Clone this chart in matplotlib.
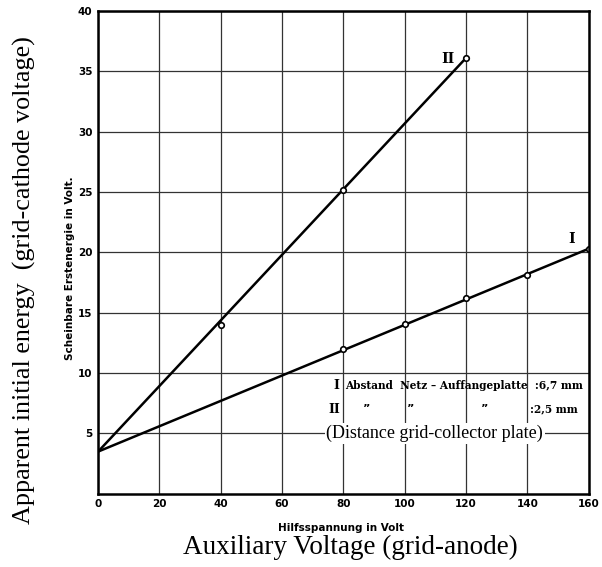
import matplotlib.pyplot as plt

# measured points (Hilfsspannung in Volt, scheinbare Erstenergie in Volt)
x_I = [80, 100, 120, 140, 160]
y_I = [12.0, 14.1, 16.2, 18.1, 20.3]
x_II = [40, 80, 120]
y_II = [14.0, 25.2, 36.1]

# both lines start at the common intercept
x0 = 0
y0 = 3.5

x_ticks = [0, 20, 40, 60, 80, 100, 120, 140, 160]
y_ticks = [5, 10, 15, 20, 25, 30, 35, 40]
y_ticklabels = ['5', '10', '15', '20', '25', '30', '35', '40']

fig = plt.figure(figsize=(6.02, 5.67), dpi=100)
ax = fig.add_axes([0.163, 0.129, 0.815, 0.852])

ax.set_xlim(0, 160)
ax.set_ylim(0, 40)
ax.set_xticks(x_ticks)
ax.set_yticks(y_ticks)
ax.set_yticklabels(y_ticklabels)
ax.grid(True, color='#333333', linewidth=0.9)
ax.tick_params(length=0, labelsize=7.5, pad=4)
for lab in ax.get_xticklabels() + ax.get_yticklabels():
    lab.set_fontweight('bold')
for s in ax.spines.values():
    s.set_linewidth(1.8)

# fitted straight lines
ax.plot([x0, x_II[-1]], [y0, y_II[-1]], color='black', linewidth=1.8)
ax.plot([x0, x_I[-1]], [y0, y_I[-1]], color='black', linewidth=1.8)
# measured points
ax.plot(x_II, y_II, 'o', color='black', markersize=4, markerfacecolor='white', markeredgewidth=1.2)
ax.plot(x_I, y_I, 'o', color='black', markersize=4, markerfacecolor='white', markeredgewidth=1.2)

ax.text(114, 36.0, 'II', fontsize=10, fontweight='bold', family='DejaVu Serif', ha='center', va='center')
ax.text(154.4, 21.1, 'I', fontsize=10, fontweight='bold', family='DejaVu Serif', ha='center', va='center')

# legend text
ax.text(78.8, 9.0, 'I', fontsize=9, fontweight='bold', family='DejaVu Serif', ha='right', va='center')
ax.text(80.5, 9.0, 'Abstand  Netz \u2013 Auffangeplatte  :6,7 mm', fontsize=7.6, fontweight='bold',
        family='DejaVu Serif', ha='left', va='center')
ax.text(78.8, 7.0, 'II', fontsize=9, fontweight='bold', family='DejaVu Serif', ha='right', va='center')
ax.text(87.6, 7.0, '\u201d', fontsize=8, fontweight='bold', ha='center', va='center')
ax.text(102, 7.0, '\u201d', fontsize=8, fontweight='bold', ha='center', va='center')
ax.text(126, 7.0, '\u201d', fontsize=8, fontweight='bold', ha='center', va='center')
ax.text(140.7, 7.0, ':2,5 mm', fontsize=7.6, fontweight='bold', family='DejaVu Serif', ha='left', va='center')
ax.text(109.8, 5, '(Distance grid-collector plate)', fontsize=13, family='Liberation Serif',
        ha='center', va='center', bbox=dict(facecolor='white', edgecolor='none', pad=1.0))

ax.set_xlabel('Hilfsspannung in Volt', fontsize=7.5, fontweight='bold')
ax.xaxis.set_label_coords(0.495, -0.06)
ax.set_ylabel('Scheinbare Erstenergie in Volt.', fontsize=7.5, fontweight='bold')
ax.yaxis.set_label_coords(-0.047, 0.468)

fig.text(0.582, 0.034, 'Auxiliary Voltage (grid-anode)', fontsize=19.5, family='Liberation Serif',
         ha='center', va='center')
fig.text(0.04, 0.506, 'Apparent initial energy  (grid-cathode voltage)', fontsize=18.8,
         family='Liberation Serif', ha='center', va='center', rotation=90)

fig.savefig('out.png', dpi=100, facecolor='white')
